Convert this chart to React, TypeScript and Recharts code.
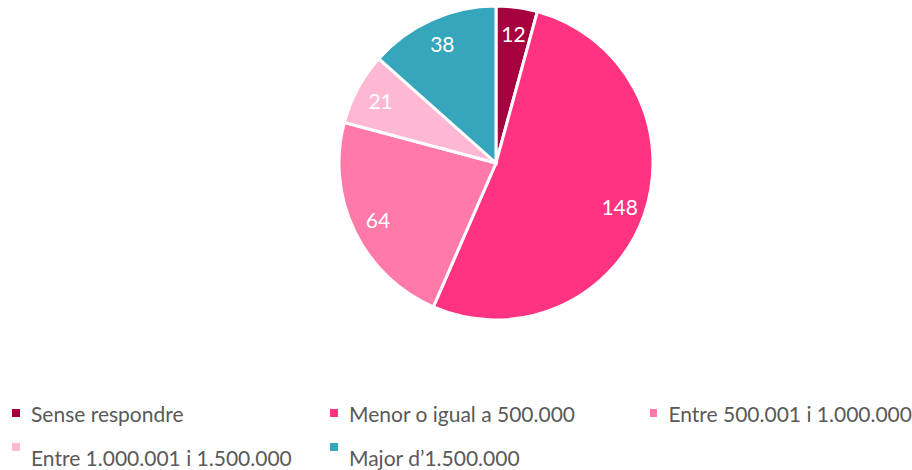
import React from "react";
import { PieChart, Pie, Cell, Legend } from "recharts";

const categories = [
  "Sense respondre",
  "Menor o igual a 500.000",
  "Entre 500.001 i 1.000.000",
  "Entre 1.000.001 i 1.500.000",
  "Major d\u20191.500.000",
];
const values = [12, 148, 64, 21, 38];
const colors = ["#A6003F", "#FF3381", "#FF7AA8", "#FFB8D3", "#36A6BC"];

const data = categories.map((name, i) => ({ name, value: values[i] }));

const FONT = "Lato, 'Open Sans', sans-serif";
const RAD = Math.PI / 180;

const renderLabel = (props: any) => {
  const { cx, cy, midAngle, outerRadius, value } = props;
  const r = outerRadius * 0.835;
  const x = cx + r * Math.cos(-midAngle * RAD);
  const y = cy + r * Math.sin(-midAngle * RAD);
  return (
    <text
      x={x}
      y={y}
      fill="#FFFFFF"
      textAnchor="middle"
      dominantBaseline="central"
      fontFamily={FONT}
      fontSize={21}
    >
      {value}
    </text>
  );
};

const renderLegend = () => (
  <div
    style={{
      display: "grid",
      gridTemplateColumns: "318px 320px 274px",
      rowGap: 18,
      fontFamily: FONT,
      fontSize: 21,
      color: "#595959",
    }}
  >
    {categories.map((c, i) => (
      <div key={c} style={{ display: "flex", alignItems: "center", height: 24, paddingLeft: 12, whiteSpace: "nowrap" }}>
        <span
          style={{
            display: "inline-block",
            width: 8,
            height: 8,
            background: colors[i],
            marginRight: 11,
            position: "relative",
            top: i >= 3 ? -8 : 0,
          }}
        />
        <span style={{ position: "relative", top: i >= 3 ? 2 : 0 }}>{c}</span>
      </div>
    ))}
  </div>
);

export default function App() {
  return (
    <div style={{ position: "absolute", left: 0, top: 0, width: 912, height: 470, background: "#fff" }}>
      <PieChart width={912} height={470} margin={{ top: 0, right: 0, bottom: 0, left: 0 }}>
        <Pie
          data={data}
          dataKey="value"
          nameKey="name"
          cx={496}
          cy={163}
          outerRadius={157}
          startAngle={90}
          endAngle={-270}
          stroke="#FFFFFF"
          strokeWidth={3}
          label={renderLabel}
          labelLine={false}
          isAnimationActive={false}
        >
          {data.map((d, i) => (
            <Cell key={d.name} fill={colors[i]} />
          ))}
        </Pie>
        <Legend
          content={renderLegend}
          wrapperStyle={{ position: "absolute", left: 0, top: 401, width: 912 }}
        />
      </PieChart>
    </div>
  );
}
